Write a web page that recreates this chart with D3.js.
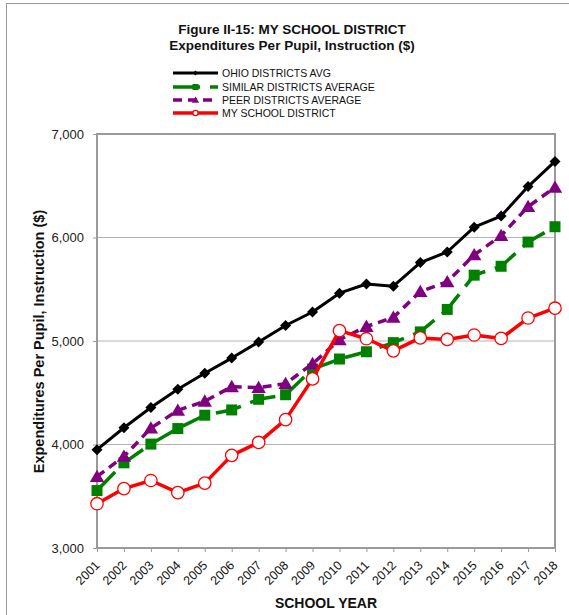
<!DOCTYPE html>
<html>
<head>
<meta charset="utf-8">
<script src="https://cdn.jsdelivr.net/npm/d3@7"></script>
<style>
  html, body { margin: 0; padding: 0; background: #fff; }
  svg { display: block; font-family: "Liberation Sans", Arial, sans-serif; }
</style>
</head>
<body>
<svg id="chart" width="569" height="615"></svg>
<script>
const years = ["2001","2002","2003","2004","2005","2006","2007","2008","2009","2010","2011","2012","2013","2014","2015","2016","2017","2018"];
const ohioAvg =    [3950,4162,4358,4533,4688,4835,4990,5150,5280,5462,5551,5530,5758,5860,6100,6207,6492,6735];
const similarAvg = [3555,3823,4004,4154,4283,4334,4437,4481,4728,4826,4896,4984,5088,5305,5636,5722,5956,6104];
const peerAvg =    [3690,3885,4158,4330,4418,4558,4550,4588,4780,5012,5140,5228,5478,5572,5832,6018,6298,6485];
const myDistrict = [3428,3574,3652,3535,3627,3895,4020,4240,4634,5100,5022,4905,5030,5015,5058,5025,5222,5317];
const yTicks = [3000,4000,5000,6000,7000];

const seriesNames = ["OHIO DISTRICTS AVG","SIMILAR DISTRICTS AVERAGE","PEER DISTRICTS AVERAGE","MY SCHOOL DISTRICT"];
const seriesValues = [ohioAvg, similarAvg, peerAvg, myDistrict];
const seriesStyle = [
  {color:"#000000", width:3,   dash:null,    marker:"diamond"},
  {color:"#008000", width:3.5, dash:"26,10", marker:"square"},
  {color:"#800080", width:3.5, dash:"9,6",   marker:"triangle"},
  {color:"#FF0000", width:3.5, dash:null,    marker:"circle"}
];

const svg = d3.select("#chart");
const L = 97, R = 555, T = 134, B = 548;
const x = d3.scalePoint().domain(years).range([L, R]);
const y = d3.scaleLinear().domain([3000, 7000]).range([B, T]);

// outer frame lines
svg.append("line").attr("x1",6).attr("x2",569).attr("y1",3.5).attr("y2",3.5).attr("stroke","#9a9a9a").attr("stroke-width",1);
svg.append("line").attr("x1",6.5).attr("x2",6.5).attr("y1",3).attr("y2",615).attr("stroke","#9a9a9a").attr("stroke-width",1);

// gridlines
svg.append("g").selectAll("line").data(yTicks.slice(1,-1)).join("line")
  .attr("x1", L).attr("x2", R).attr("y1", d => y(d)).attr("y2", d => y(d))
  .attr("stroke", "#b4b4b4").attr("stroke-width", 1);

// plot border
svg.append("rect").attr("x", L).attr("y", T).attr("width", R - L).attr("height", B - T)
  .attr("fill", "none").attr("stroke", "#9a9a9a").attr("stroke-width", 2);

// y axis
const yAxis = d3.axisLeft(y).tickValues(yTicks).tickSize(4).tickPadding(9).tickFormat(d3.format(","));
const gy = svg.append("g").attr("transform", `translate(${L},0)`).call(yAxis);
gy.select(".domain").remove();
gy.selectAll(".tick line").attr("stroke", "#9a9a9a");
gy.selectAll(".tick text").attr("font-size", 13).attr("fill", "#222").attr("font-family", "Liberation Sans, Arial, sans-serif");

// x axis
const xAxis = d3.axisBottom(x).tickSize(4).tickPadding(0);
const gx = svg.append("g").attr("transform", `translate(0,${B})`).call(xAxis);
gx.select(".domain").remove();
gx.selectAll(".tick line").attr("stroke", "#9a9a9a");
gx.selectAll(".tick text")
  .attr("font-size", 12.5).attr("fill", "#111").attr("font-family", "Liberation Sans, Arial, sans-serif")
  .attr("text-anchor", "end").attr("y", 0).attr("dy", 0)
  .attr("transform", "translate(3,18) rotate(-45)");

// axis titles
svg.append("text").attr("x", 326).attr("y", 608).attr("text-anchor", "middle")
  .attr("font-size", 14).attr("font-weight", "bold").attr("fill", "#111").text("SCHOOL YEAR");
svg.append("text").attr("transform", "translate(43.5,341.5) rotate(-90)").attr("text-anchor", "middle")
  .attr("font-size", 14.5).attr("font-weight", "bold").attr("fill", "#111").text("Expenditures Per Pupil, Instruction ($)");

// title
svg.append("text").attr("x", 292).attr("y", 34).attr("text-anchor", "middle")
  .attr("font-size", 13.5).attr("font-weight", "bold").attr("fill", "#111").text("Figure II-15: MY SCHOOL DISTRICT");
svg.append("text").attr("x", 292).attr("y", 50).attr("text-anchor", "middle")
  .attr("font-size", 13.5).attr("font-weight", "bold").attr("fill", "#111").text("Expenditures Per Pupil, Instruction ($)");

function markerPath(type, s) {
  if (type === "diamond") return `M0,${-s}L${s},0L0,${s}L${-s},0Z`;
  if (type === "square") return `M${-s},${-s}H${s}V${s}H${-s}Z`;
  if (type === "triangle") return `M0,${-s*1.15}L${s*1.2},${s*0.9}L${-s*1.2},${s*0.9}Z`;
  return null;
}
function drawMarker(g, type, color, s, cx, cy) {
  if (type === "circle") {
    g.append("circle").attr("cx", cx).attr("cy", cy).attr("r", s)
      .attr("fill", "#fff").attr("stroke", color).attr("stroke-width", 1.3);
  } else {
    g.append("path").attr("d", markerPath(type, s)).attr("transform", `translate(${cx},${cy})`)
      .attr("fill", color);
  }
}
const markerSize = {diamond:5.5, square:5.5, triangle:6, circle:6.2};

const line = d3.line().x((d, i) => x(years[i])).y(d => y(d));
seriesValues.forEach((vals, k) => {
  const st = seriesStyle[k];
  const g = svg.append("g");
  g.append("path").datum(vals).attr("d", line).attr("fill", "none")
    .attr("stroke", st.color).attr("stroke-width", st.width)
    .attr("stroke-dasharray", st.dash).attr("stroke-linejoin", "round");
  vals.forEach((v, i) => drawMarker(g, st.marker, st.color, markerSize[st.marker], x(years[i]), y(v)));
});

// legend
const legY = [73, 87, 100, 113];
const legMk = {diamond:2.5, square:3, triangle:3, circle:2.6};
seriesNames.forEach((name, k) => {
  const st = seriesStyle[k];
  const g = svg.append("g");
  g.append("line").attr("x1", 173).attr("x2", 218).attr("y1", legY[k]).attr("y2", legY[k])
    .attr("stroke", st.color).attr("stroke-width", st.width)
    .attr("stroke-dasharray", k === 1 ? "27,10" : st.dash);
  drawMarker(g, st.marker, st.color, legMk[st.marker], 195.5, legY[k]);
  g.append("text").attr("x", 222).attr("y", legY[k]).attr("dy", "0.36em")
    .attr("font-size", 10.5).attr("fill", "#111").text(name);
});
</script>
</body>
</html>
